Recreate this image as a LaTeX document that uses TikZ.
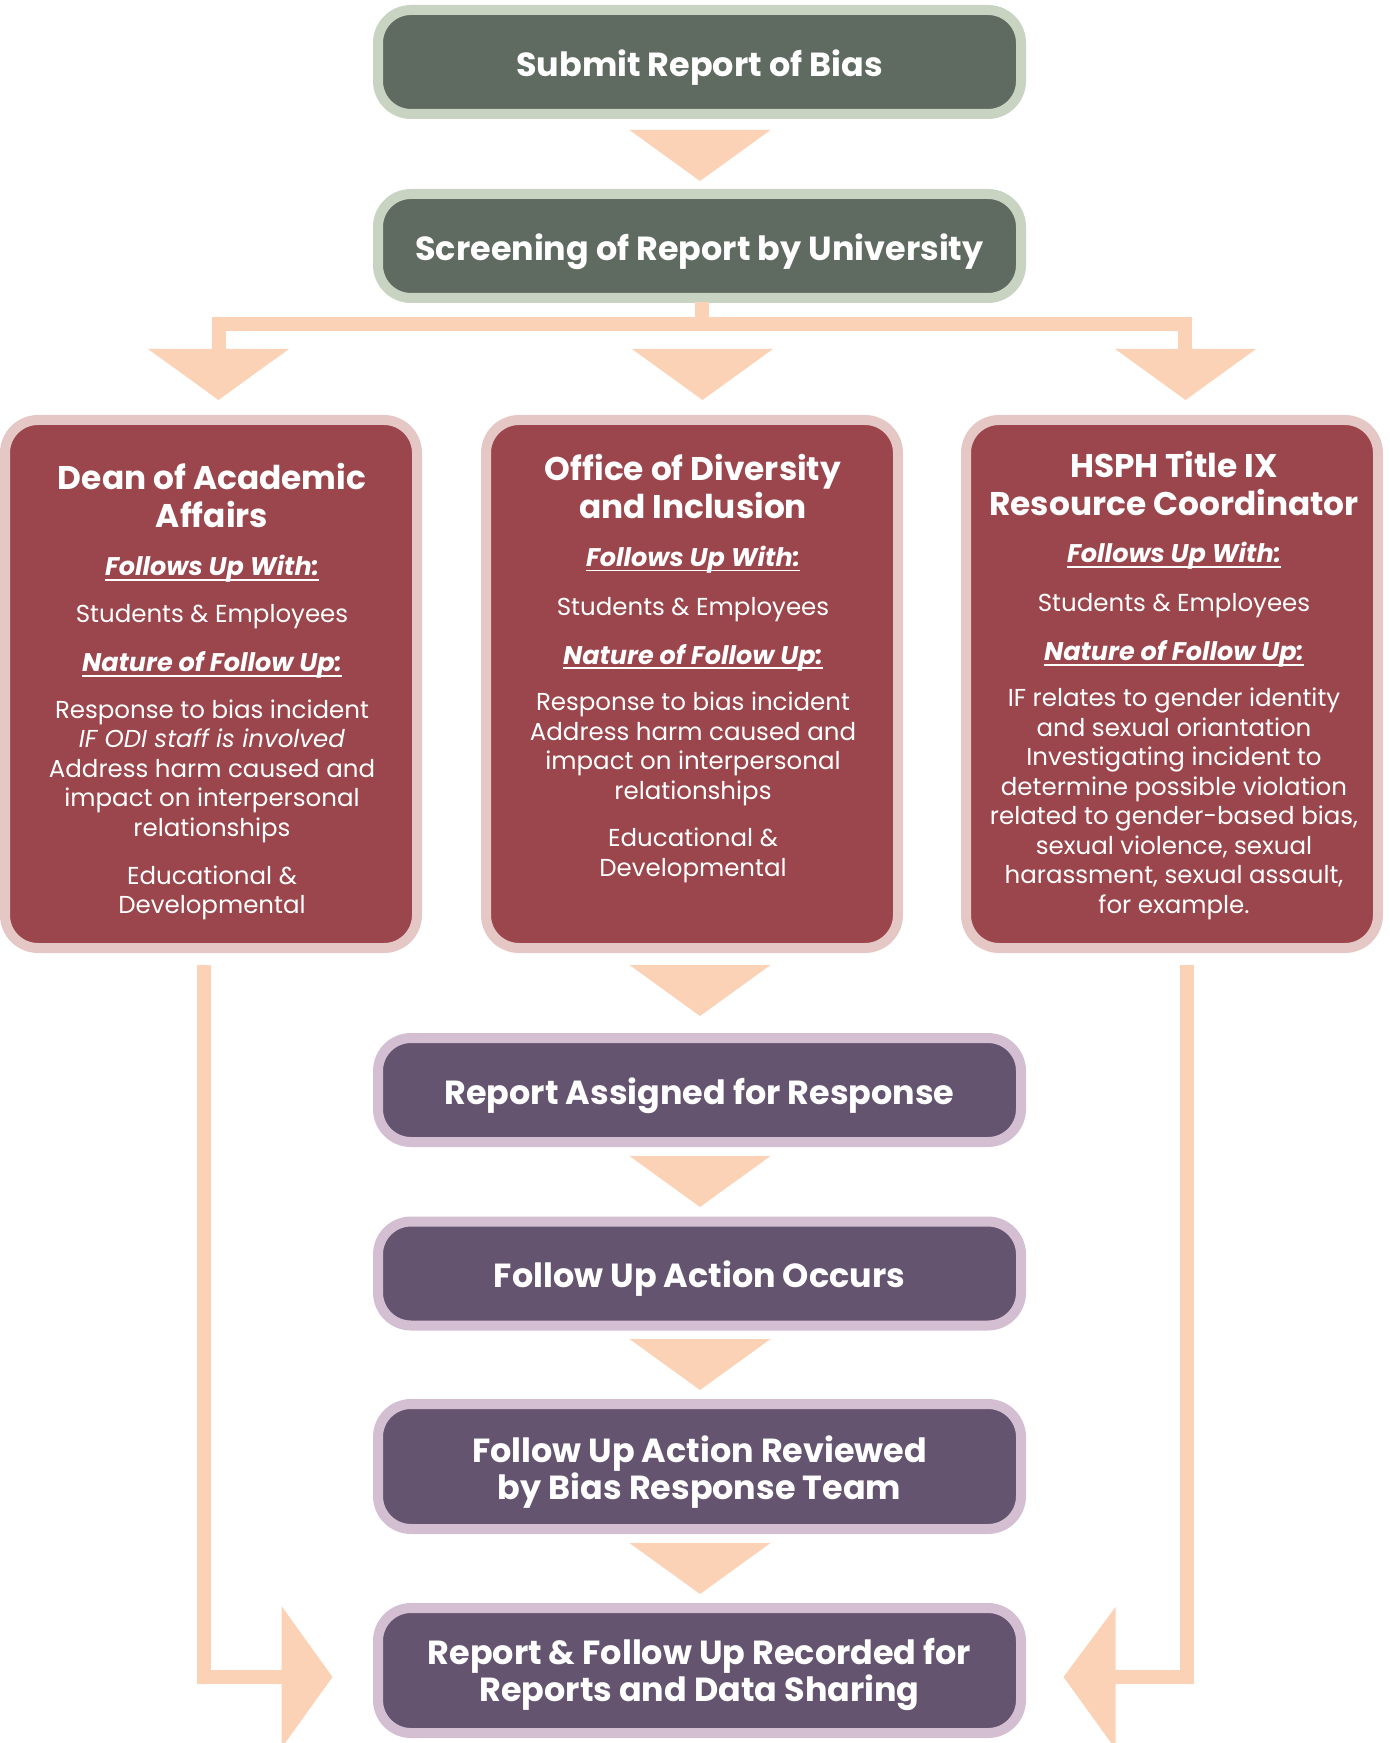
\documentclass[tikz,border=0pt]{standalone}
\usepackage{fontspec}
\setmainfont{Poppins}
\usetikzlibrary{calc}
\definecolor{gfill}{HTML}{5F6A60}
\definecolor{gbord}{HTML}{C9D3C1}
\definecolor{peach}{HTML}{FCD2B6}
\definecolor{mfill}{HTML}{9B464C}
\definecolor{mbord}{HTML}{E5C8C5}
\definecolor{pfill}{HTML}{645470}
\definecolor{pbord}{HTML}{D4BFD2}
\newcommand\ulx[1]{\setbox0\hbox{#1}\rlap{\rule[-2.5pt]{\wd0}{0.85pt}}\box0}
\begin{document}
\begin{tikzpicture}[x=0.5pt,y=-0.5pt,
  box/.style={rounded corners=16.5pt, line width=5pt, inner sep=0pt, outer sep=0pt, text=white, align=center},
  mainfont/.style={font=\fontsize{16.7pt}{18pt}\selectfont\bfseries},
  mainbox/.style={box, mainfont, fill=gfill, draw=gbord, minimum width=321.5pt, minimum height=52pt, text height=14.4pt, text depth=0pt},
  purpbox/.style={box, mainfont, fill=pfill, draw=pbord, minimum width=321.5pt, minimum height=52pt, text height=14.4pt, text depth=0pt},
  twoline/.style={text=white, inner sep=0pt, anchor=base, mainfont},
  colbox/.style={box, fill=mfill, draw=mbord, minimum width=206pt, minimum height=264pt},
  ttl/.style={text=white, align=center, inner sep=0pt, font=\fontsize{16.4pt}{19pt}\selectfont\bfseries},
  hdr/.style={text=white, inner sep=0pt, font=\fontsize{12.75pt}{14.75pt}\selectfont\bfseries\itshape},
  bod/.style={text=white, align=center, inner sep=0pt, font=\fontsize{12.25pt}{14.75pt}\selectfont},
  bar/.style={draw=peach, line width=7pt, line join=miter, line cap=butt},
  tri/.style={fill=peach}
]
\useasboundingbox (0,0) rectangle (1389,1743);
% main boxes
\node[mainbox] (submit) at (699.5,62) {Submit Report of Bias};
\node[mainbox] (screen) at (699.5,246) {Screening of Report by University};
% columns
\node[colbox] (dean) at (211,684) {};
\node[colbox] (odi) at (692,684) {};
\node[colbox] (hsph) at (1172,684) {};
% purple boxes
\node[purpbox] (assigned) at (699.5,1090) {Report Assigned for Response};
\node[purpbox] (occurs) at (699.5,1273.5) {Follow Up Action Occurs};
\node[purpbox, minimum height=62.5pt] (reviewed) at (699.5,1466.5) {};
\node[purpbox, minimum height=62.5pt] (recorded) at (699.5,1670.5) {};
\node[twoline] (reviewedT) at (699.5,1462) {\begin{tabular}[t]{@{}c@{}}Follow Up Action Reviewed\\by Bias Response Team\end{tabular}};
\node[twoline] (recordedT) at (699.5,1664) {\begin{tabular}[t]{@{}c@{}}Report \& Follow Up Recorded for\\Reports and Data Sharing\end{tabular}};
% column texts
\node[ttl] (deanT) at (212,495) {Dean of Academic\\Affairs};
\node[hdr] (deanH1) at (212,569) {\ulx{Follows Up With:}};
\node[bod] (deanS) at (212,617) {Students \& Employees};
\node[hdr] (deanH2) at (212,665) {\ulx{Nature of Follow Up:}};
\node[bod] (deanB) at (212,771) {Response to bias incident\\\textit{IF ODI staff is involved}\\Address harm caused and\\impact on interpersonal\\relationships};
\node[bod] (deanE) at (212,893) {Educational \&\\Developmental};
\node[ttl] (odiT) at (693,486) {Office of Diversity\\and Inclusion};
\node[hdr] (odiH1) at (693,559.5) {\ulx{Follows Up With:}};
\node[bod] (odiS) at (693,609.5) {Students \& Employees};
\node[hdr] (odiH2) at (693,657.5) {\ulx{Nature of Follow Up:}};
\node[bod] (odiB) at (693,749) {Response to bias incident\\Address harm caused and\\impact on interpersonal\\relationships};
\node[bod] (odiE) at (693,855.5) {Educational \&\\Developmental};
\node[ttl] (hsphT) at (1174,483) {HSPH Title IX\\Resource Coordinator};
\node[hdr] (hsphH1) at (1174,556) {\ulx{Follows Up With:}};
\node[bod] (hsphS) at (1174,606) {Students \& Employees};
\node[hdr] (hsphH2) at (1174,654) {\ulx{Nature of Follow Up:}};
\node[bod] (hsphB) at (1174,804) {IF relates to gender identity\\and sexual oriantation\\Investigating incident to\\determine possible violation\\related to gender-based bias,\\sexual violence, sexual\\harassment, sexual assault,\\for example.};
% triangles down the main column
\fill[tri] ($(submit.south)+(-70,16)$) -- ++(141,0) -- ++(-70.5,51) -- cycle;
\fill[tri] ($(odi.south)+(-62.5,17)$) -- ++(141,0) -- ++(-70.5,51) -- cycle;
\fill[tri] ($(assigned.south)+(-70,14)$) -- ++(141,0) -- ++(-70.5,51) -- cycle;
\fill[tri] ($(occurs.south)+(-70,13.5)$) -- ++(141,0) -- ++(-70.5,51) -- cycle;
\fill[tri] ($(reviewed.south)+(-70,14)$) -- ++(141,0) -- ++(-70.5,51) -- cycle;
% branch
\coordinate (bl) at (219,324);
\coordinate (br) at (1184.5,324);
\draw[bar] ($(screen.south)+(2.5,4)$) -- ($(screen.south)+(2.5,26)$);
\draw[bar] (219,351) -- (bl) -- (br) -- (1184.5,351);
\fill[tri] ($(dean.north)+(-63,-71)$) -- ++(141,0) -- ++(-70.5,51) -- cycle;
\fill[tri] ($(odi.north)+(-60,-71)$) -- ++(141,0) -- ++(-70.5,51) -- cycle;
\fill[tri] ($(hsph.north)+(-57,-71)$) -- ++(141,0) -- ++(-70.5,51) -- cycle;
% side connectors
\coordinate (ltip) at ($(recorded.west)+(-45.5,6.5)$);
\coordinate (rtip) at ($(recorded.east)+(42.5,6.5)$);
\draw[bar] ($(dean.south)+(-7,17)$) |- ($(ltip)+(-44,0)$);
\fill[tri] (ltip) -- ++(-51,-71) -- ++(0,142) -- cycle;
\draw[bar] ($(hsph.south)+(15,17)$) |- ($(rtip)+(44,0)$);
\fill[tri] (rtip) -- ++(52,-70) -- ++(0,142) -- cycle;
\end{tikzpicture}
\end{document}
